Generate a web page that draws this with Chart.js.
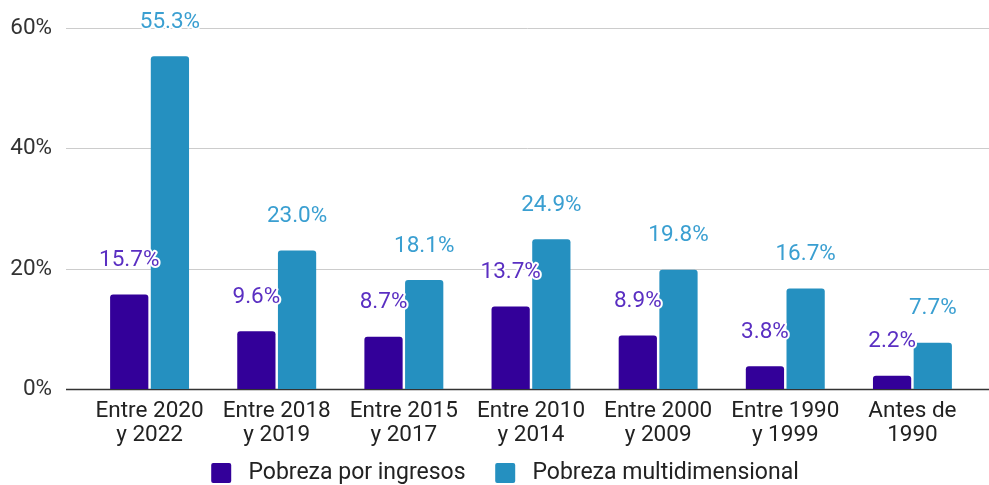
<!DOCTYPE html>
<html>
<head>
<meta charset="utf-8">
<script src="https://cdn.jsdelivr.net/npm/chart.js@4.4.0/dist/chart.umd.min.js"></script>
<style>
  html, body { margin: 0; padding: 0; background: #fff; }
  #wrap { width: 989px; height: 485px; }
</style>
</head>
<body>
<div id="wrap"><canvas id="chart"></canvas></div>
<script>
// Datos del gráfico
const categorias = [
    ['Entre 2020', 'y 2022'],
    ['Entre 2018', 'y 2019'],
    ['Entre 2015', 'y 2017'],
    ['Entre 2010', 'y 2014'],
    ['Entre 2000', 'y 2009'],
    ['Entre 1990', 'y 1999'],
    ['Antes de', '1990']
];
const pobrezaIngresos = [15.7, 9.6, 8.7, 13.7, 8.9, 3.8, 2.2];
const pobrezaMulti = [55.3, 23.0, 18.1, 24.9, 19.8, 16.7, 7.7];
const ticksY = [0, 20, 40, 60];

const fuente = 'Roboto, "Noto Sans", sans-serif';
const tam = 22.5;

// grilla y etiquetas del eje Y, de borde a borde como en el original
const grilla = {
    id: 'grilla',
    beforeDatasetsDraw(chart) {
        const ctx = chart.ctx;
        const y = chart.scales.y;
        ctx.save();
        ctx.font = tam + 'px ' + fuente;
        ctx.textAlign = 'right';
        ctx.textBaseline = 'middle';
        ticksY.forEach(v => {
            const py = Math.round(y.getPixelForValue(v)) + 0.5;
            ctx.strokeStyle = v === 0 ? '#333333' : '#cccccc';
            ctx.lineWidth = v === 0 ? 1.5 : 1;
            ctx.beginPath();
            ctx.moveTo(66, py);
            ctx.lineTo(chart.width, py);
            ctx.stroke();
            ctx.fillStyle = '#333333';
            ctx.fillText(v + '%', 52, py);
        });
        ctx.restore();
    }
};

// etiquetas de valor sobre las barras
const etiquetas = {
    id: 'etiquetas',
    afterDatasetsDraw(chart) {
        const ctx = chart.ctx;
        ctx.save();
        ctx.font = tam + 'px ' + fuente;
        ctx.textAlign = 'center';
        ctx.textBaseline = 'middle';
        chart.data.datasets.forEach((ds, i) => {
            const meta = chart.getDatasetMeta(i);
            meta.data.forEach((bar, j) => {
                const txt = ds.data[j].toFixed(1) + '%';
                const py = bar.y - 34;
                ctx.lineWidth = 4;
                ctx.strokeStyle = '#ffffff';
                ctx.lineJoin = 'round';
                ctx.strokeText(txt, bar.x, py);
                ctx.fillStyle = ds.labelColor;
                ctx.fillText(txt, bar.x, py);
            });
        });
        ctx.restore();
    }
};

// espacios para separar los items de la leyenda como en el original
const espaciosLeyenda = ['   ', ''];

const ctx = document.getElementById('chart').getContext('2d');
const grafico = new Chart(ctx, {
    type: 'bar',
    data: {
        labels: categorias,
        datasets: [{
            label: 'Pobreza por ingresos',
            data: pobrezaIngresos,
            backgroundColor: '#330099',
            labelColor: '#5a2fc2',
            borderRadius: 3,
            borderSkipped: 'bottom',
            categoryPercentage: 0.64,
            barPercentage: 0.94
        }, {
            label: 'Pobreza multidimensional',
            data: pobrezaMulti,
            backgroundColor: '#2590c0',
            labelColor: '#3a9fd1',
            borderRadius: 3,
            borderSkipped: 'bottom',
            categoryPercentage: 0.64,
            barPercentage: 0.94
        }]
    },
    options: {
        responsive: true,
        maintainAspectRatio: false,
        animation: false,
        layout: { padding: { top: 28, right: 13, left: 34, bottom: 0 } },
        scales: {
            x: {
                afterFit(scale) { scale.height = 60; },
                grid: { display: false, drawTicks: false },
                border: { display: false },
                ticks: {
                    color: '#222222',
                    font: { size: tam, family: fuente, lineHeight: 1.07 },
                    padding: 10,
                    maxRotation: 0,
                    autoSkip: false
                }
            },
            y: {
                min: 0,
                max: 60,
                afterFit(scale) { scale.width = 52; },
                grid: { display: false, drawTicks: false },
                border: { display: false },
                ticks: { display: false }
            }
        },
        plugins: {
            tooltip: { enabled: false },
            legend: {
                position: 'bottom',
                maxHeight: 36,
                labels: {
                    color: '#222222',
                    font: { size: 23, family: fuente },
                    boxWidth: 20,
                    boxHeight: 20,
                    padding: 12.5,
                    useBorderRadius: true,
                    borderRadius: 2,
                    generateLabels(chart) {
                        const items = Chart.defaults.plugins.legend.labels.generateLabels(chart);
                        items.forEach((it, i) => { it.text = ' ' + it.text + espaciosLeyenda[i]; });
                        return items;
                    }
                }
            }
        }
    },
    plugins: [grilla, etiquetas]
});
</script>
</body>
</html>
